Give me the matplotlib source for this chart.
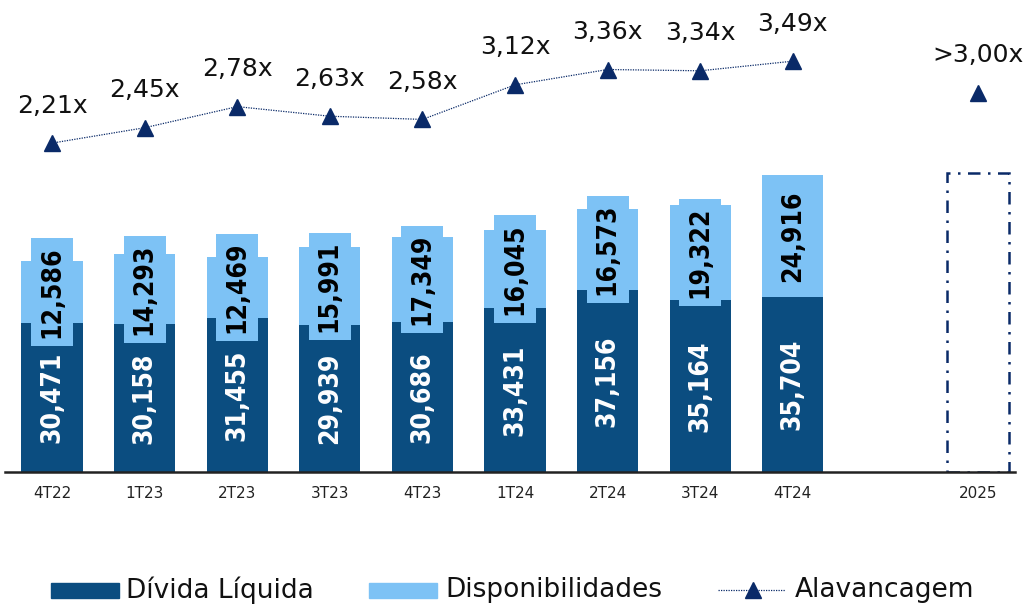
import matplotlib
matplotlib.use("Agg")
import matplotlib.pyplot as plt
from matplotlib.patches import Rectangle
from matplotlib.lines import Line2D

# ---- data ----
periods = ["4T22", "1T23", "2T23", "3T23", "4T23", "1T24", "2T24", "3T24", "4T24"]
divida_liquida = [30.471, 30.158, 31.455, 29.939, 30.686, 33.431, 37.156, 35.164, 35.704]
disponibilidades = [12.586, 14.293, 12.469, 15.991, 17.349, 16.045, 16.573, 19.322, 24.916]
alavancagem = [2.21, 2.45, 2.78, 2.63, 2.58, 3.12, 3.36, 3.34, 3.49]
proj_label = "2025"
proj_alavancagem = 3.00
proj_alavancagem_text = ">3,00x"
proj_box_height = 61.0

DARK = "#0B4D80"
LIGHT = "#7DC2F5"
NAVY = "#0A2A68"

plt.rcParams['font.family'] = ['DejaVu Sans']

fig = plt.figure(figsize=(10.31, 6.04), dpi=100)
ax = fig.add_axes([5/1031, 1 - 472/604, 1010/1031, 462/604])

x = list(range(len(periods)))
x_proj = len(periods) + 1
w = 0.66

ax.bar(x, divida_liquida, width=w, color=DARK, zorder=2)
ax.bar(x, disponibilidades, width=w, bottom=divida_liquida, color=LIGHT, zorder=2)
ax.bar([x_proj], [proj_box_height], width=w, fill=False, edgecolor=NAVY,
       linestyle=(0, (5, 3, 1, 3)), linewidth=1.8, zorder=2)

def fmt(v):
    return f"{v:.3f}".replace(".", ",")

for xi, d, l in zip(x, divida_liquida, disponibilidades):
    ax.text(xi, d / 2, fmt(d), rotation=90, ha="center", va="center",
            color="white", fontsize=19, fontweight="bold", fontstretch="condensed",
            zorder=3)
    ax.text(xi, d + l / 2, fmt(l), rotation=90, ha="center", va="center",
            color="black", fontsize=19, fontweight="bold", fontstretch="condensed",
            zorder=3,
            bbox=dict(boxstyle="square,pad=0.3", facecolor=LIGHT, edgecolor="none"))

ax.set_xlim(-0.508, 10.40)
ax.set_ylim(0, 94.3)
for s in ["top", "right", "left"]:
    ax.spines[s].set_visible(False)
ax.spines["bottom"].set_linewidth(1.8)
ax.spines["bottom"].set_color("#222222")
ax.set_yticks([])
ax.set_xticks(x + [x_proj])
ax.set_xticklabels(periods + [proj_label], fontsize=11, color="#222222")
ax.tick_params(axis="x", length=0, pad=10)

ax2 = ax.twinx()
ax2.set_ylim(-2.93, 4.29)
ax2.axis("off")
ax2.plot(x, alavancagem, linestyle=(0, (1, 1)), color=NAVY, linewidth=0.9,
         marker="^", markersize=11, markerfacecolor=NAVY, markeredgecolor=NAVY, zorder=4)
ax2.plot([x_proj], [proj_alavancagem], linestyle="none", marker="^", markersize=11,
         color=NAVY, zorder=4)
for xi, v in zip(x, alavancagem):
    ax2.annotate(f"{v:.2f}".replace(".", ",") + "x", (xi, v), xytext=(0, 27),
                 textcoords="offset points", ha="center", va="center",
                 fontsize=18, color="#111111")
ax2.annotate(proj_alavancagem_text, (x_proj, proj_alavancagem), xytext=(0, 27),
             textcoords="offset points", ha="center", va="center",
             fontsize=18, color="#111111")

# ---- legend (drawn manually in figure coords) ----
def fx(px):
    return px / 1031
def fy(py):
    return 1 - py / 604

ly = 590
fig.patches.append(Rectangle((fx(51), fy(598)), fx(68), 15/604, color=DARK,
                             transform=fig.transFigure, figure=fig))
fig.text(fx(126), fy(ly), "Dívida Líquida", fontsize=19, va="center", ha="left",
         color="#111111")
fig.patches.append(Rectangle((fx(369), fy(598)), fx(68), 15/604, color=LIGHT,
                             transform=fig.transFigure, figure=fig))
fig.text(fx(445), fy(ly), "Disponibilidades", fontsize=19, va="center", ha="left",
         color="#111111")
fig.lines.append(Line2D([fx(718), fx(785)], [fy(ly), fy(ly)], transform=fig.transFigure,
                        linestyle=(0, (1, 1)), color=NAVY, linewidth=0.9, figure=fig))
fig.lines.append(Line2D([fx(753)], [fy(ly)], transform=fig.transFigure, marker="^",
                        markersize=11, color=NAVY, linestyle="none", figure=fig))
fig.text(fx(795), fy(ly), "Alavancagem", fontsize=19, va="center", ha="left",
         color="#111111")

fig.savefig("out.png", dpi=100)
